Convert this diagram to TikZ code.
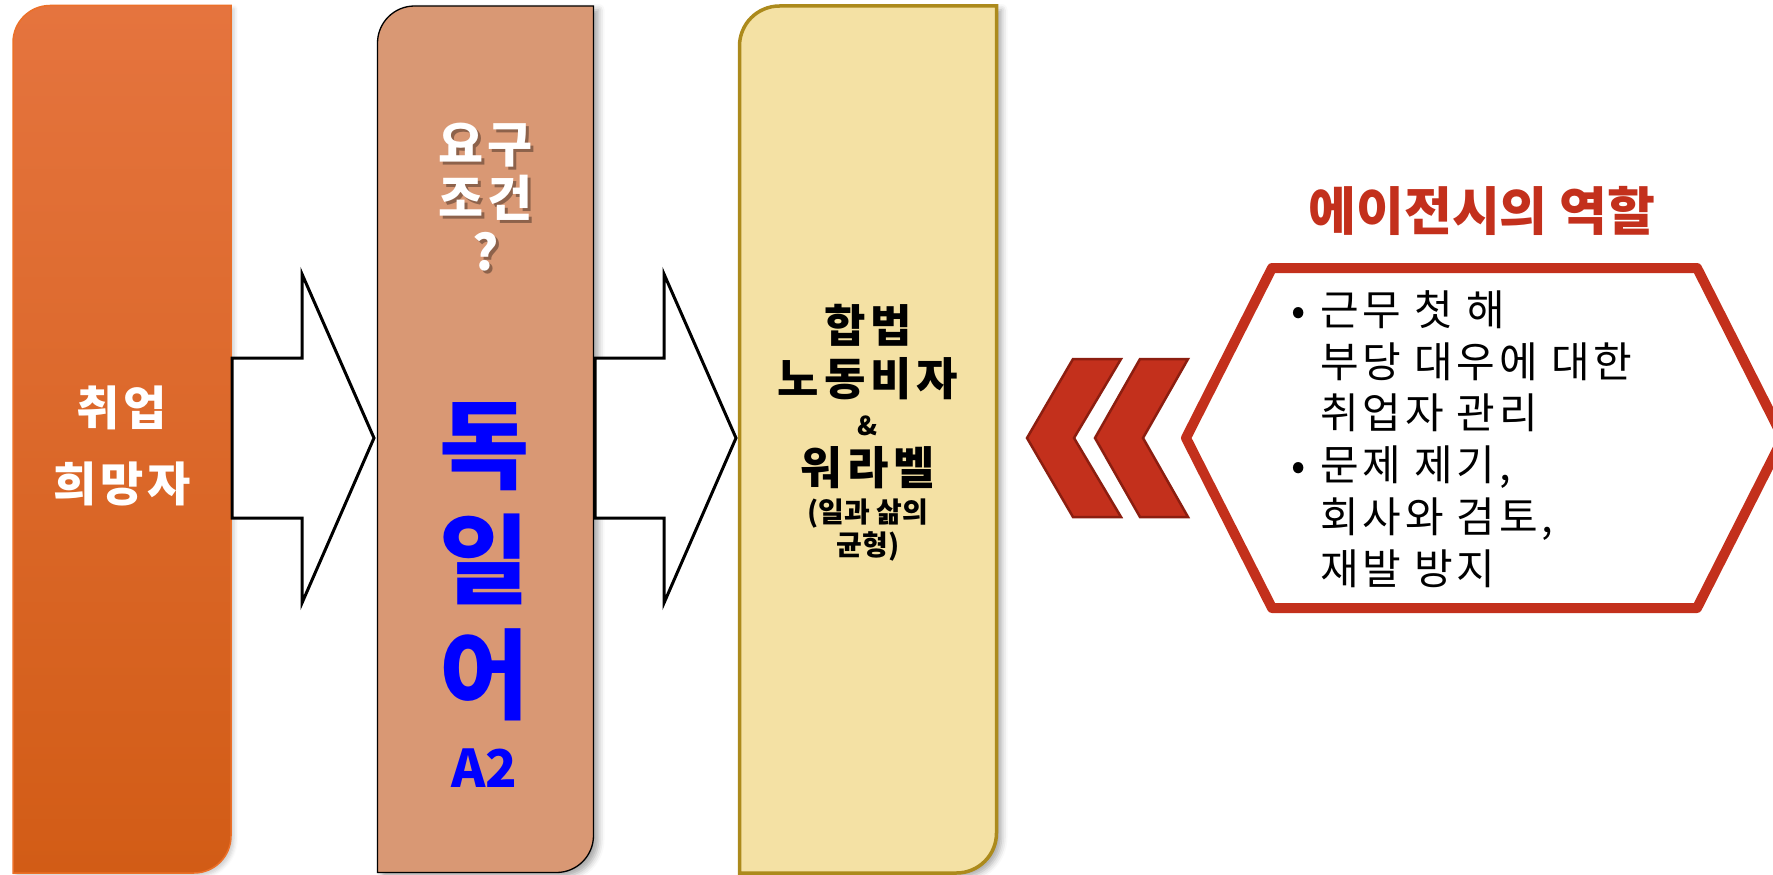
\documentclass[tikz,border=0pt]{standalone}
\usepackage{fontspec}
\setmainfont{Noto Sans CJK KR}
\usetikzlibrary{shadows.blur}
\definecolor{orangeTop}{RGB}{229,116,62}
\definecolor{orangeBot}{RGB}{210,92,22}
\definecolor{orangeEdge}{RGB}{236,112,40}
\definecolor{tanFill}{RGB}{217,152,116}
\definecolor{creamFill}{RGB}{244,225,164}
\definecolor{goldEdge}{RGB}{172,138,28}
\definecolor{agencyRed}{RGB}{195,48,28}
\definecolor{chevEdge}{RGB}{140,30,16}
\definecolor{deBlue}{RGB}{0,0,255}
\begin{document}
\begin{tikzpicture}[x=1pt,y=-1pt,
  boxshadow/.style={blur shadow={shadow xshift=5pt,shadow yshift=-4pt,shadow blur radius=6pt,shadow opacity=35}},
  blockarrow/.style={draw=black,fill=white,line width=3pt,line join=miter},
  chevron/.style={draw=chevEdge,fill=agencyRed,line width=2.5pt,line join=miter},
  hexframe/.style={draw=agencyRed,line width=10pt,line join=round},
  txt/.style={inner sep=0pt,align=center},
]
\useasboundingbox (0,0) rectangle (1773,875);

% box 1 (orange gradient)
\path[top color=orangeTop,bottom color=orangeBot,draw=orangeEdge,line width=1.5pt,
  blur shadow={shadow xshift=3pt,shadow yshift=-3pt,shadow blur radius=4pt,shadow opacity=20}]
  (13,873) -- (13,42.5) .. controls (13,22.1) and (29.6,5.5) .. (50,5.5) -- (231,5.5)
  -- (231,836) .. controls (231,856.4) and (214.4,873) .. (194,873) -- cycle;

% box 2 (tan)
\path[fill=tanFill,draw=black,line width=1.3pt,boxshadow]
  (377.5,872.5) -- (377.5,43) .. controls (377.5,22.6) and (394.1,6) .. (414.5,6) -- (593.5,6)
  -- (593.5,835.5) .. controls (593.5,855.9) and (576.9,872.5) .. (556.5,872.5) -- cycle;

% box 3 (cream)
\path[fill=creamFill,draw=goldEdge,line width=3.5pt,boxshadow]
  (739.5,873) -- (739.5,46) .. controls (739.5,23.9) and (757.4,6) .. (779.5,6) -- (996.5,6)
  -- (996.5,833) .. controls (996.5,855.1) and (978.6,873) .. (956.5,873) -- cycle;

% block arrows
\draw[blockarrow] (232,358) -- (302,358) -- (302,274) -- (374,438) -- (302,603) -- (302,518) -- (232,518) -- cycle;
\draw[blockarrow] (595,358) -- (664,358) -- (664,274) -- (736,438) -- (664,603) -- (664,518) -- (595,518) -- cycle;

% chevrons
\draw[chevron] (1027,438) -- (1073,359) -- (1121,359) -- (1074,438) -- (1121,517) -- (1073,517) -- cycle;
\draw[chevron] (1095,438) -- (1140,359) -- (1188,359) -- (1143,438) -- (1188,517) -- (1140,517) -- cycle;

% hexagon
\draw[hexframe] (1186,438) -- (1272,268) -- (1697,268) -- (1783,438) -- (1697,608) -- (1272,608) -- cycle;

% texts
\node[txt,text=white,font=\bfseries\fontsize{47}{76}\selectfont\addfontfeature{LetterSpace=8}] (seeker) at (122,446) {취업\\희망자};

\node[txt,text=black,opacity=0.35,font=\bfseries\fontsize{49}{54}\selectfont\addfontfeature{LetterSpace=8}] (reqshadow) at (489,200) {요구\\조건\\?};
\node[txt,text=white,font=\bfseries\fontsize{49}{54}\selectfont\addfontfeature{LetterSpace=8}] (req) at (486,197) {요구\\조건\\?};
\node[txt,text=deBlue,font=\bfseries\fontsize{98}{115}\selectfont] (german) at (485,562) {독\\일\\어};
\node[txt,text=deBlue,font=\bfseries\fontsize{52}{60}\selectfont] (level) at (484,768) {A2};

\node[txt,font=\bfseries\fontsize{45}{53}\selectfont\addfontfeature{LetterSpace=11}] (visa) at (868,352) {합법\\노동비자};
\node[txt,font=\bfseries\fontsize{26}{30}\selectfont] (amp) at (868,426) {\&};
\node[txt,font=\bfseries\fontsize{45}{53}\selectfont\addfontfeature{LetterSpace=11}] (wlb) at (868,468) {워라벨};
\node[txt,font=\bfseries\fontsize{28}{33}\selectfont] (wlbnote) at (868,530) {(일과 삶의\\균형)};

\node[txt,text=agencyRed,font=\bfseries\fontsize{52}{60}\selectfont] (title) at (1482,211) {에이전시의 역할};

\node[inner sep=0pt,align=left,anchor=west,font=\fontsize{42}{51.7}\selectfont\addfontfeature{LetterSpace=9}] (roles) at (1320,439)
  {\llap{•\hspace{14pt}}근무 첫 해\\부당 대우에 대한\\취업자 관리\\\llap{•\hspace{14pt}}문제 제기,\\회사와 검토,\\재발 방지};
\end{tikzpicture}
\end{document}
